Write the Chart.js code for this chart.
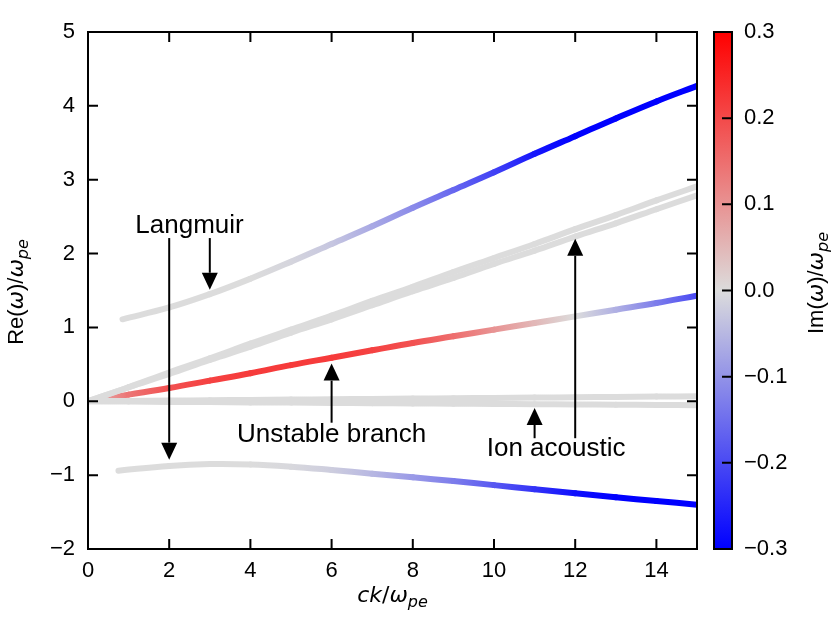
<!DOCTYPE html>
<html>
<head>
<meta charset="utf-8">
<title>Dispersion branches</title>
<script src="https://cdn.jsdelivr.net/npm/chart.js@4.4.1/dist/chart.umd.min.js"></script>
<style>
    html, body { margin: 0; padding: 0; background: #fff; }
    #wrap { width: 831px; height: 624px; position: relative; }
</style>
</head>
<body>
<div id="wrap"><canvas id="dispChart"></canvas></div>
<script>
// Wavenumber grid ck/w_pe shared by the branches that start at the origin
const kFull = [0, 1, 2, 3, 4, 5, 6, 7, 8, 9, 10, 11, 12, 13, 14, 15];

// Upper Langmuir branch
const langUpK  = [0.85, 2, 3, 4, 5, 6, 7, 8, 9, 10, 11, 12, 13, 14, 15];
const langUpRe = [1.11, 1.27, 1.45, 1.66, 1.89, 2.13, 2.37, 2.62, 2.86, 3.1, 3.35, 3.59, 3.83, 4.06, 4.27];
const langUpIm = [0, 0, 0, 0, -0.01, -0.03, -0.07, -0.11, -0.16, -0.21, -0.27, -0.32, -0.35, -0.37, -0.38];

// Lower Langmuir branch
const langLoK  = [0.75, 2, 3, 4, 5, 6, 7, 8, 9, 10, 11, 12, 13, 14, 15];
const langLoRe = [-0.94, -0.875, -0.85, -0.855, -0.885, -0.93, -0.98, -1.03, -1.08, -1.135, -1.19, -1.245, -1.3, -1.35, -1.4];
const langLoIm = [0, 0, 0, 0, -0.005, -0.02, -0.05, -0.09, -0.13, -0.18, -0.23, -0.28, -0.32, -0.35, -0.38];

// Ion acoustic, upper pair
const iaUpARe = [0, 0.19, 0.39, 0.58, 0.78, 0.97, 1.16, 1.36, 1.55, 1.75, 1.94, 2.13, 2.33, 2.52, 2.72, 2.91];
const iaUpBRe = [0, 0.19, 0.37, 0.56, 0.74, 0.93, 1.11, 1.3, 1.49, 1.67, 1.86, 2.04, 2.23, 2.41, 2.6, 2.79];
// Ion acoustic, pair near zero
const iaLoARe = [0, 0.005, 0.01, 0.014, 0.019, 0.023, 0.028, 0.032, 0.037, 0.041, 0.046, 0.05, 0.055, 0.059, 0.064, 0.068];
const iaLoBRe = [0, -0.004, -0.008, -0.011, -0.015, -0.018, -0.022, -0.025, -0.029, -0.033, -0.036, -0.04, -0.043, -0.047, -0.05, -0.054];
const iaIm    = [0, 0, 0, 0, 0, 0, 0, 0, 0, 0, 0, 0, 0, 0, 0, 0];

// Unstable branch
const unRe = [0, 0.09, 0.18, 0.28, 0.38, 0.49, 0.59, 0.69, 0.79, 0.88, 0.97, 1.06, 1.15, 1.24, 1.33, 1.43];
const unIm = [0.05, 0.14, 0.19, 0.21, 0.22, 0.22, 0.22, 0.21, 0.19, 0.15, 0.1, 0.05, 0.0, -0.06, -0.13, -0.2];

// Tick values
const xTicks  = [0, 2, 4, 6, 8, 10, 12, 14];
const yTicks  = [-2, -1, 0, 1, 2, 3, 4, 5];
const cbTicks = [-0.3, -0.2, -0.1, 0, 0.1, 0.2, 0.3];

// Annotations (data coordinates)
const arrowFrom = [[2, 2.21], [3, 2.21], [6, -0.29], [11, -0.5], [12, -0.5]];
const arrowTo   = [[2, -0.79], [3, 1.51], [6, 0.51], [11, -0.09], [12, 2.2]];
const noteText  = ['Langmuir', 'Unstable branch', 'Ion acoustic'];
const notePos   = [[2.5, 2.28], [6.0, -0.55], [11.53, -0.74]];

const SANS = "'Liberation Sans', Arial, sans-serif";
const MATH = "'DejaVu Sans', sans-serif";
const IM_MAX = 0.3;

// blue -> light gray -> red
function imColor(v) {
    let t = Math.max(-1, Math.min(1, v / IM_MAX));
    let r, g, b;
    if (t >= 0) {
        r = 220 + 35 * t; g = 220 * (1 - t); b = 220 * (1 - t);
    } else {
        t = -t;
        r = 220 * (1 - t); g = 220 * (1 - t); b = 220 + 35 * t;
    }
    return `rgb(${Math.round(r)},${Math.round(g)},${Math.round(b)})`;
}

function minusSign(s) {
    return String(s).replace('-', '\u2212');
}

function branch(k, re, im) {
    return {
        data: k.map((x, i) => ({ x: x, y: re[i] })),
        borderColor: imColor(im[0]),
        borderWidth: 6,
        borderCapStyle: 'round',
        borderJoinStyle: 'round',
        pointRadius: 0,
        tension: 0.4,
        clip: 0,
        segment: {
            borderColor: ctx => {
                const g = ctx.chart.ctx.createLinearGradient(ctx.p0.x, ctx.p0.y, ctx.p1.x, ctx.p1.y);
                g.addColorStop(0, imColor(im[ctx.p0DataIndex]));
                g.addColorStop(1, imColor(im[ctx.p1DataIndex]));
                return g;
            },
            // keeps every segment as its own stroke
            borderDashOffset: ctx => ctx.p0DataIndex
        }
    };
}

// draws text made of pieces with different fonts (subscripts etc.)
function drawRich(ctx, parts, x, y, angle) {
    ctx.save();
    ctx.translate(x, y);
    ctx.rotate(angle);
    ctx.textAlign = 'left';
    ctx.textBaseline = 'alphabetic';
    ctx.fillStyle = '#000';
    let w = 0;
    parts.forEach(p => { ctx.font = p.f; p.w = ctx.measureText(p.t).width; w += p.w; });
    let cx = -w / 2;
    parts.forEach(p => { ctx.font = p.f; ctx.fillText(p.t, cx, p.dy || 0); cx += p.w; });
    ctx.restore();
}

function drawArrow(ctx, x0, y0, x1, y1) {
    const len = Math.hypot(x1 - x0, y1 - y0);
    const ux = (x1 - x0) / len, uy = (y1 - y0) / len;
    const hl = 17, hw = 8;
    const bx = x1 - ux * hl, by = y1 - uy * hl;
    ctx.beginPath();
    ctx.moveTo(x0, y0);
    ctx.lineTo(bx, by);
    ctx.stroke();
    ctx.beginPath();
    ctx.moveTo(x1, y1);
    ctx.lineTo(bx - uy * hw, by + ux * hw);
    ctx.lineTo(bx + uy * hw, by - ux * hw);
    ctx.closePath();
    ctx.fill();
}

// no extra room for half labels at the ends of the axes
function fixBox(w, h) {
    return s => {
        if (w) s.width = w;
        if (h) s.height = h;
        s.paddingTop = 0; s.paddingBottom = 0;
        s.paddingLeft = 0; s.paddingRight = 0;
    };
}

const decorPlugin = {
    id: 'decor',
    afterDatasetsDraw(chart) {
        const { ctx, chartArea: a, scales } = chart;
        const sx = scales.x, sy = scales.y, cb = scales.cb;
        ctx.save();

        // annotations
        ctx.strokeStyle = '#000';
        ctx.fillStyle = '#000';
        ctx.lineWidth = 2;
        arrowFrom.forEach((f, i) => {
            const t = arrowTo[i];
            drawArrow(ctx, sx.getPixelForValue(f[0]), sy.getPixelForValue(f[1]),
                sx.getPixelForValue(t[0]), sy.getPixelForValue(t[1]));
        });
        ctx.font = `26px ${SANS}`;
        ctx.textAlign = 'center';
        ctx.textBaseline = 'alphabetic';
        noteText.forEach((s, i) => {
            ctx.fillText(s, sx.getPixelForValue(notePos[i][0]), sy.getPixelForValue(notePos[i][1]));
        });

        // frame with inward ticks
        ctx.lineWidth = 2;
        ctx.strokeRect(a.left, a.top, a.right - a.left, a.bottom - a.top);
        ctx.beginPath();
        sx.ticks.forEach(t => {
            const px = sx.getPixelForValue(t.value);
            ctx.moveTo(px, a.bottom); ctx.lineTo(px, a.bottom - 10);
            ctx.moveTo(px, a.top); ctx.lineTo(px, a.top + 10);
        });
        sy.ticks.forEach(t => {
            const py = sy.getPixelForValue(t.value);
            ctx.moveTo(a.left, py); ctx.lineTo(a.left + 10, py);
            ctx.moveTo(a.right, py); ctx.lineTo(a.right - 10, py);
        });
        ctx.stroke();

        // colour bar
        const cTop = cb.getPixelForValue(IM_MAX), cBot = cb.getPixelForValue(-IM_MAX);
        const cL = a.right + 17, cW = 18;
        const grad = ctx.createLinearGradient(0, cTop, 0, cBot);
        grad.addColorStop(0, imColor(IM_MAX));
        grad.addColorStop(0.5, imColor(0));
        grad.addColorStop(1, imColor(-IM_MAX));
        ctx.fillStyle = grad;
        ctx.fillRect(cL, cTop, cW, cBot - cTop);
        ctx.strokeRect(cL, cTop, cW, cBot - cTop);
        ctx.beginPath();
        cb.ticks.forEach(t => {
            const py = cb.getPixelForValue(t.value);
            ctx.moveTo(cL + cW, py); ctx.lineTo(cL + cW - 10, py);
        });
        ctx.stroke();

        // axis titles
        const reg = `22px ${SANS}`, it = `italic 22px ${MATH}`, sub = `italic 16px ${MATH}`;
        drawRich(ctx, [
            { t: 'c', f: it }, { t: 'k', f: it }, { t: '/', f: `22px ${MATH}` },
            { t: '\u03c9', f: it }, { t: 'pe', f: sub, dy: 5 }
        ], (a.left + a.right) / 2, 602, 0);
        drawRich(ctx, [
            { t: 'Re(', f: reg }, { t: '\u03c9', f: it }, { t: ')/', f: reg },
            { t: '\u03c9', f: it }, { t: 'pe', f: sub, dy: 5 }
        ], 23, 292, -Math.PI / 2);
        drawRich(ctx, [
            { t: 'Im(', f: reg }, { t: '\u03c9', f: it }, { t: ')/', f: reg },
            { t: '\u03c9', f: it }, { t: 'pe', f: sub, dy: 5 }
        ], 823, 283, -Math.PI / 2);

        ctx.restore();
    }
};

const tickFont = { family: SANS, size: 22 };

new Chart(document.getElementById('dispChart'), {
    type: 'line',
    data: {
        datasets: [
            branch(kFull, iaLoARe, iaIm),
            branch(kFull, iaLoBRe, iaIm),
            branch(kFull, iaUpARe, iaIm),
            branch(kFull, iaUpBRe, iaIm),
            branch(langLoK, langLoRe, langLoIm),
            branch(langUpK, langUpRe, langUpIm),
            branch(kFull, unRe, unIm)
        ]
    },
    options: {
        responsive: true,
        maintainAspectRatio: false,
        animation: false,
        events: [],
        layout: { padding: { top: 32, left: 0, right: 0, bottom: 0 } },
        plugins: { legend: { display: false }, tooltip: { enabled: false } },
        scales: {
            x: {
                type: 'linear', position: 'bottom', min: 0, max: 15,
                afterBuildTicks: s => { s.ticks = xTicks.map(v => ({ value: v })); },
                afterFit: fixBox(0, 75),
                grid: { display: false, drawTicks: false },
                border: { display: false },
                ticks: { color: '#000', font: tickFont, padding: 9, maxRotation: 0,
                    callback: v => minusSign(v) }
            },
            y: {
                type: 'linear', position: 'left', min: -2, max: 5,
                afterBuildTicks: s => { s.ticks = yTicks.map(v => ({ value: v })); },
                afterFit: fixBox(88, 0),
                grid: { display: false, drawTicks: false },
                border: { display: false },
                ticks: { color: '#000', font: tickFont, padding: 13,
                    callback: v => minusSign(v) }
            },
            cb: {
                type: 'linear', position: 'right', min: -IM_MAX, max: IM_MAX,
                afterBuildTicks: s => { s.ticks = cbTicks.map(v => ({ value: v })); },
                afterFit: fixBox(134, 0),
                grid: { display: false, drawTicks: false },
                border: { display: false },
                ticks: { color: '#000', font: tickFont, padding: 47,
                    callback: v => minusSign((Math.abs(v) < 1e-9 ? 0 : v).toFixed(1)) }
            }
        }
    },
    plugins: [decorPlugin]
});
</script>
</body>
</html>
